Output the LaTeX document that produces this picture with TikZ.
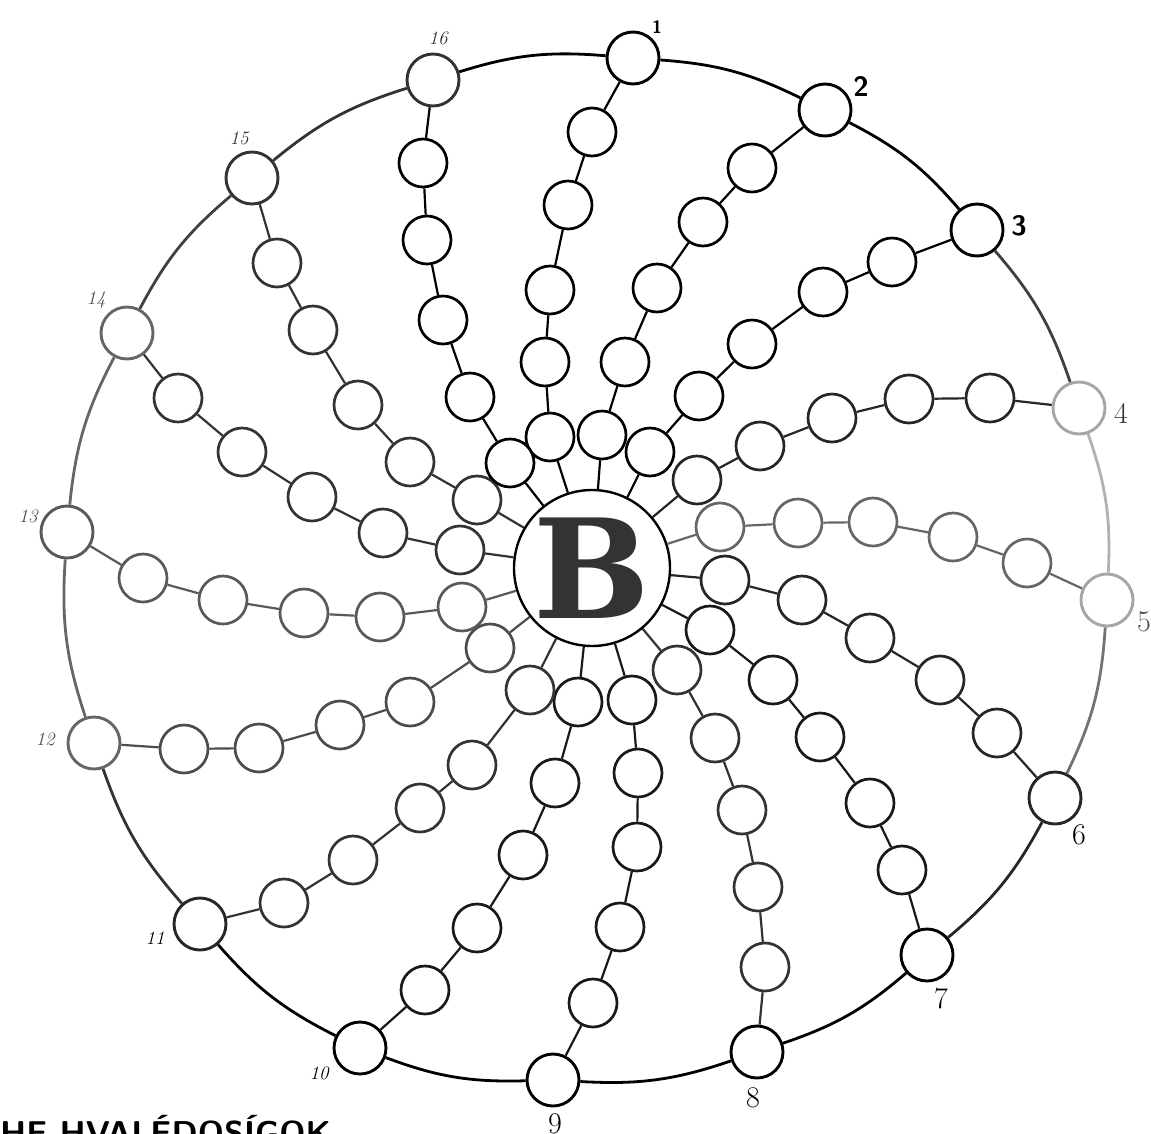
\documentclass[tikz,border=0pt]{standalone}
\usepackage{fontspec}
\usepackage{tikz}
\newfontfamily\slabfont{DejaVu Serif}

\tikzset{
  bead/.style={circle, draw, fill=white, line width=2.7pt, minimum size=48pt, inner sep=0pt},
  endbead/.style={bead, minimum size=52pt, line width=2.9pt},
  hub/.style={circle, draw, fill=white, line width=2.4pt, minimum size=156pt, inner sep=0pt},
  link/.style={line width=2.2pt},
  rim/.style={line width=2.8pt},
  numtag/.style={inner sep=0pt, font=\fontsize{30}{30}\selectfont},
  handtag/.style={inner sep=0pt, font=\fontsize{19}{19}\selectfont\itshape},
  boldtag/.style={inner sep=0pt, font=\fontsize{28}{28}\selectfont\sffamily\bfseries},
}

\begin{document}
\begin{tikzpicture}[x=1pt, y=-1pt]
\useasboundingbox (0,0) rectangle (1151,1133);
\fill[white] (0,0) rectangle (1151,1133);

% centre
\node[hub, font=\fontsize{138}{138}\selectfont\slabfont\bfseries, text=black!80] (B) at (592,568) {B};

% spokes: number / rim colour / bead colour / rim station / beads towards B
\foreach \k/\oc/\bc/\out/\pts in {
  1/black/black/{(633,58)}/{(592,132),(568,205),(550,290),(545,362),(550,437)},
  2/black/black/{(825,110)}/{(752,168),(703,222),(657,288),(625,362),(602,435)},
  3/black/black/{(977,230)}/{(892,262),(823,292),(752,344),(699,396),(650,452)},
  4/black!35/black!85/{(1079,408)}/{(990,398),(909,399),(832,418),(760,446),(697,480)},
  5/black!35/black!60/{(1107,600)}/{(1027,563),(953,537),(873,522),(798,523),(720,527)},
  6/black!85/black!85/{(1055,798)}/{(997,733),(940,680),(870,638),(802,600),(725,580)},
  7/black/black!90/{(927,955)}/{(902,870),(870,803),(820,737),(773,680),(710,630)},
  8/black/black!80/{(757,1052)}/{(765,967),(758,887),(742,810),(715,738),(677,670)},
  9/black/black!90/{(553,1080)}/{(593,1003),(620,927),(637,847),(638,773),(632,700)},
  10/black/black!90/{(360,1048)}/{(425,990),(477,928),(523,855),(555,783),(578,702)},
  11/black!85/black!80/{(200,924)}/{(284,903),(353,860),(420,808),(472,765),(530,690)},
  12/black!60/black!70/{(94,743)}/{(184,749),(259,748),(340,725),(410,702),(490,648)},
  13/black!65/black!65/{(67,532)}/{(143,578),(223,600),(304,613),(380,617),(462,607)},
  14/black!60/black!80/{(127,333)}/{(178,398),(242,452),(312,497),(383,533),(460,550)},
  15/black!80/black!80/{(252,178)}/{(277,263),(313,330),(358,405),(410,462),(477,500)},
  16/black!80/black/{(433,80)}/{(423,163),(427,240),(443,320),(470,397),(510,463)}} {
  \node[endbead, draw=\oc] (s\k-0) at \out {};
  \foreach \p [count=\j] in \pts
    \node[bead, draw=\bc] (s\k-\j) at \p {};
  \draw[link, draw=\bc] (s\k-0) -- (s\k-1) -- (s\k-2) -- (s\k-3) -- (s\k-4) -- (s\k-5) -- (B);
}

% rim
\foreach \k/\rc [remember=\k as \prev (initially 16)] in {1/black, 2/black, 3/black, 4/black!75,
    5/black!30, 6/black!55, 7/black!85, 8/black, 9/black, 10/black, 11/black, 12/black!80,
    13/black!60, 14/black!60, 15/black!75, 16/black!80}
  \draw[rim, draw=\rc] (s\prev-0) to[bend left=11] (s\k-0);

% numbers
\node[boldtag, font=\fontsize{18}{18}\selectfont\sffamily\bfseries] (t1) at (657,27) {1};
\node[boldtag] (t2) at (861,86) {2};
\node[boldtag] (t3) at (1019,226) {3};
\node[numtag, text=black!80] (t4) at (1121,413) {4};
\node[numtag, text=black!70] (t5) at (1144,622) {5};
\node[numtag] (t6) at (1079,835) {6};
\node[numtag] (t7) at (941,999) {7};
\node[numtag] (t8) at (753,1098) {8};
\node[numtag] (t9) at (555,1124) {9};
\node[handtag] (t10) at (319,1073) {10};
\node[handtag] (t11) at (155,938) {11};
\node[handtag, text=black!70] (t12) at (45,739) {12};
\node[handtag, text=black!70] (t13) at (28,516) {13};
\node[handtag, text=black!70] (t14) at (96,300) {14};
\node[handtag, text=black!80] (t15) at (239,138) {15};
\node[handtag, text=black!80] (t16) at (438,38) {16};

% cut caption
\node[anchor=base west, inner sep=0pt, font=\fontsize{33}{33}\selectfont\sffamily\bfseries] (cap) at (0,1144) {HE HVALÉDOSÍGOK};
\end{tikzpicture}
\end{document}
